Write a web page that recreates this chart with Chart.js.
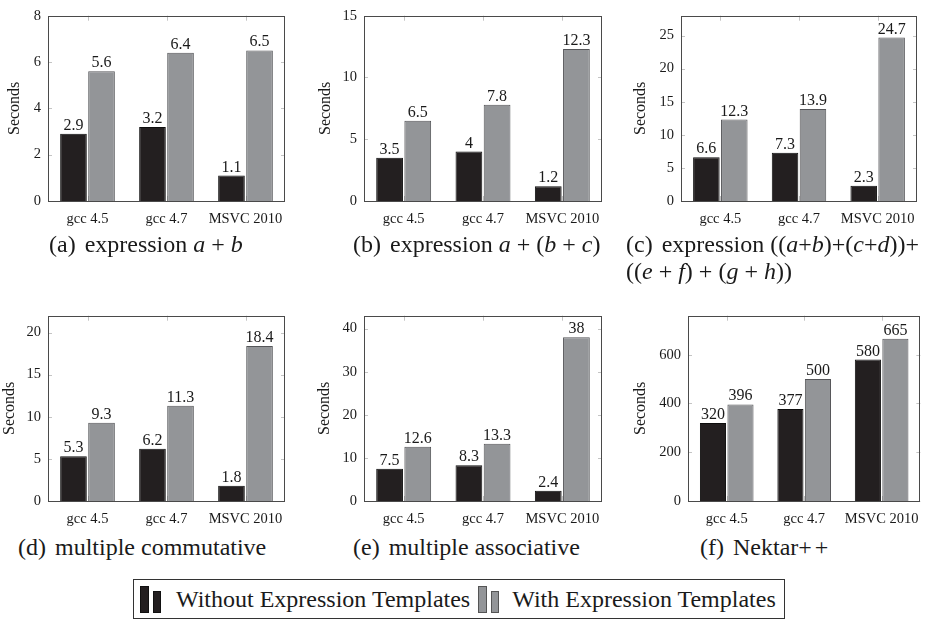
<!DOCTYPE html>
<html>
<head>
<meta charset="utf-8">
<script src="https://cdn.jsdelivr.net/npm/chart.js@4/dist/chart.umd.min.js"></script>
<style>
  body { margin: 0; background: #fff; width: 928px; height: 621px; overflow: hidden; position: relative;
         font-family: 'Liberation Serif', serif; color: #1a1a1a; }
  .panel { position: absolute; height: 232px; }
  .cap { position: absolute; font-family: 'Liberation Serif', serif; font-size: 24px; line-height: 27px; white-space: nowrap; }
  .cap .n { margin-right: 9px; }
  #legend { position: absolute; left: 133px; top: 579px; width: 652px; height: 40px; border: 1px solid #333;
            display: flex; align-items: center; font-family: 'Liberation Serif', serif; font-size: 24px; box-sizing: border-box; }
  .sw { display: inline-block; position: relative; width: 21px; height: 28px; }
  .sw span { position: absolute; bottom: 0; box-sizing: border-box; border: 1px solid #111; }
</style>
</head>
<body>

<div class="panel" style="left:0px;top:0px;width:300px"><canvas id="chartA"></canvas></div>
<div class="panel" style="left:311px;top:0px;width:309px"><canvas id="chartB"></canvas></div>
<div class="panel" style="left:626px;top:0px;width:302px"><canvas id="chartC"></canvas></div>
<div class="panel" style="left:0px;top:300px;width:300px"><canvas id="chartD"></canvas></div>
<div class="panel" style="left:311px;top:300px;width:309px"><canvas id="chartE"></canvas></div>
<div class="panel" style="left:626px;top:300px;width:302px"><canvas id="chartF"></canvas></div>

<div class="cap" style="left:49px;top:231px"><span class="n">(a)</span>expression <i>a</i> + <i>b</i></div>
<div class="cap" style="left:353px;top:231px"><span class="n">(b)</span>expression <i>a</i> + (<i>b</i> + <i>c</i>)</div>
<div class="cap" style="left:626px;top:231px"><span class="n">(c)</span>expression ((<i>a</i>+<i>b</i>)+(<i>c</i>+<i>d</i>))+<br>((<i>e</i> + <i>f</i>) + (<i>g</i> + <i>h</i>))</div>
<div class="cap" style="left:18px;top:534px"><span class="n">(d)</span>multiple commutative</div>
<div class="cap" style="left:353px;top:534px"><span class="n">(e)</span>multiple associative</div>
<div class="cap" style="left:700px;top:534px"><span class="n">(f)</span>Nektar<span style="letter-spacing:3px">++</span></div>

<div id="legend">
  <span class="sw" style="margin-left:6px;margin-right:15px"><span style="left:0;width:9px;height:27px;background:#231f20"></span><span style="left:13px;width:8px;height:22px;background:#231f20"></span></span>
  <span>Without Expression Templates</span>
  <span class="sw" style="margin-left:8px;margin-right:13px"><span style="left:0;width:9px;height:27px;background:#939598;border-color:#555"></span><span style="left:13px;width:8px;height:22px;background:#939598;border-color:#555"></span></span>
  <span>With Expression Templates</span>
</div>

<script>
// ---- data ----
const categories = ['gcc 4.5', 'gcc 4.7', 'MSVC 2010'];
const seriesNames = ['Without Expression Templates', 'With Expression Templates'];

const aWithout = [2.9, 3.2, 1.1];
const aWith    = [5.6, 6.4, 6.5];
const bWithout = [3.5, 4, 1.2];
const bWith    = [6.5, 7.8, 12.3];
const cWithout = [6.6, 7.3, 2.3];
const cWith    = [12.3, 13.9, 24.7];
const dWithout = [5.3, 6.2, 1.8];
const dWith    = [9.3, 11.3, 18.4];
const eWithout = [7.5, 8.3, 2.4];
const eWith    = [12.6, 13.3, 38];
const fWithout = [320, 377, 580];
const fWith    = [396, 500, 665];

// y axis ticks and upper limit per panel
const aTicks = [0, 2, 4, 6, 8];
const bTicks = [0, 5, 10, 15];
const cTicks = [0, 5, 10, 15, 20, 25];
const dTicks = [0, 5, 10, 15, 20];
const eTicks = [0, 10, 20, 30, 40];
const fTicks = [0, 200, 400, 600];
const yMax = [8, 15, 28, 22, 43, 760];

// ---- look ----
const serif = "'Liberation Serif', serif";
const darkFill = '#231f20', darkEdge = '#0d0d0d';
const greyFill = '#939598', greyEdge = '#555659';

// light inner ticks on all four sides, pgfplots style
const innerTicks = {
    id: 'innerTicks',
    beforeDatasetsDraw(chart) {
        const { ctx, chartArea: a, scales: { x, y } } = chart;
        ctx.save();
        ctx.strokeStyle = '#c4c4c4';
        ctx.lineWidth = 1;
        ctx.beginPath();
        y.ticks.forEach((t, i) => {
            const py = Math.round(y.getPixelForTick(i)) + 0.5;
            ctx.moveTo(a.left, py); ctx.lineTo(a.left + 4, py);
            ctx.moveTo(a.right, py); ctx.lineTo(a.right - 4, py);
        });
        x.ticks.forEach((t, i) => {
            const px = Math.round(x.getPixelForTick(i)) + 0.5;
            ctx.moveTo(px, a.top); ctx.lineTo(px, a.top + 5);
            ctx.moveTo(px, a.bottom); ctx.lineTo(px, a.bottom - 5);
        });
        ctx.stroke();
        ctx.restore();
    }
};

// box around plot + value labels above bars
const frameAndLabels = {
    id: 'frameAndLabels',
    afterDatasetsDraw(chart) {
        const { ctx, chartArea: a } = chart;
        ctx.save();
        ctx.strokeStyle = '#4a4a4a';
        ctx.lineWidth = 1;
        ctx.strokeRect(Math.round(a.left) + 0.5, Math.round(a.top) + 0.5,
                       Math.round(a.width) - 1, Math.round(a.height));
        ctx.fillStyle = '#1a1a1a';
        ctx.font = '16px ' + serif;
        ctx.textAlign = 'center';
        ctx.textBaseline = 'alphabetic';
        chart.data.datasets.forEach((ds, di) => {
            chart.getDatasetMeta(di).data.forEach((bar, i) => {
                ctx.fillText(String(ds.data[i]), bar.x, bar.y - 4);
            });
        });
        ctx.restore();
    }
};

function makeChart(id, without, withT, ticks, top, yW, titlePad, padR) {
    new Chart(document.getElementById(id), {
        type: 'bar',
        data: {
            labels: categories,
            datasets: [
                { label: seriesNames[0], data: without, backgroundColor: darkFill, borderColor: darkEdge, borderWidth: 1 },
                { label: seriesNames[1], data: withT, backgroundColor: greyFill, borderColor: greyEdge, borderWidth: 1 }
            ]
        },
        options: {
            responsive: true,
            maintainAspectRatio: false,
            animation: false,
            layout: { padding: { top: 7, right: padR, left: 0, bottom: 0 } },
            datasets: { bar: { categoryPercentage: 0.71, barPercentage: 0.95 } },
            plugins: { legend: { display: false }, tooltip: { enabled: false } },
            scales: {
                x: {
                    grid: { display: false, drawTicks: false },
                    border: { display: false },
                    ticks: { color: '#1a1a1a', font: { family: serif, size: 14.5 }, padding: 9, maxRotation: 0 },
                    afterFit(s) { s.height = 31; }
                },
                y: {
                    min: 0,
                    max: top,
                    grid: { display: false, drawTicks: false },
                    border: { display: false },
                    ticks: { autoSkip: false, color: '#1a1a1a', font: { family: serif, size: 14.5 }, padding: 7 },
                    afterBuildTicks(s) { s.ticks = ticks.map(v => ({ value: v })); },
                    title: { display: true, text: 'Seconds', color: '#1a1a1a', font: { family: serif, size: 16 },
                             padding: { top: titlePad, bottom: 0 } },
                    afterFit(s) { s.width = yW; }
                }
            }
        },
        plugins: [innerTicks, frameAndLabels]
    });
}

makeChart('chartA', aWithout, aWith, aTicks, yMax[0], 48, 5, 15);
makeChart('chartB', bWithout, bWith, bTicks, yMax[1], 53, 5, 18);
makeChart('chartC', cWithout, cWith, cTicks, yMax[2], 55, 5, 11);
makeChart('chartD', dWithout, dWith, dTicks, yMax[3], 48, 0, 15);
makeChart('chartE', eWithout, eWith, eTicks, yMax[4], 53, 4, 18);
makeChart('chartF', fWithout, fWith, fTicks, yMax[5], 62, 5, 3);
</script>
</body>
</html>
